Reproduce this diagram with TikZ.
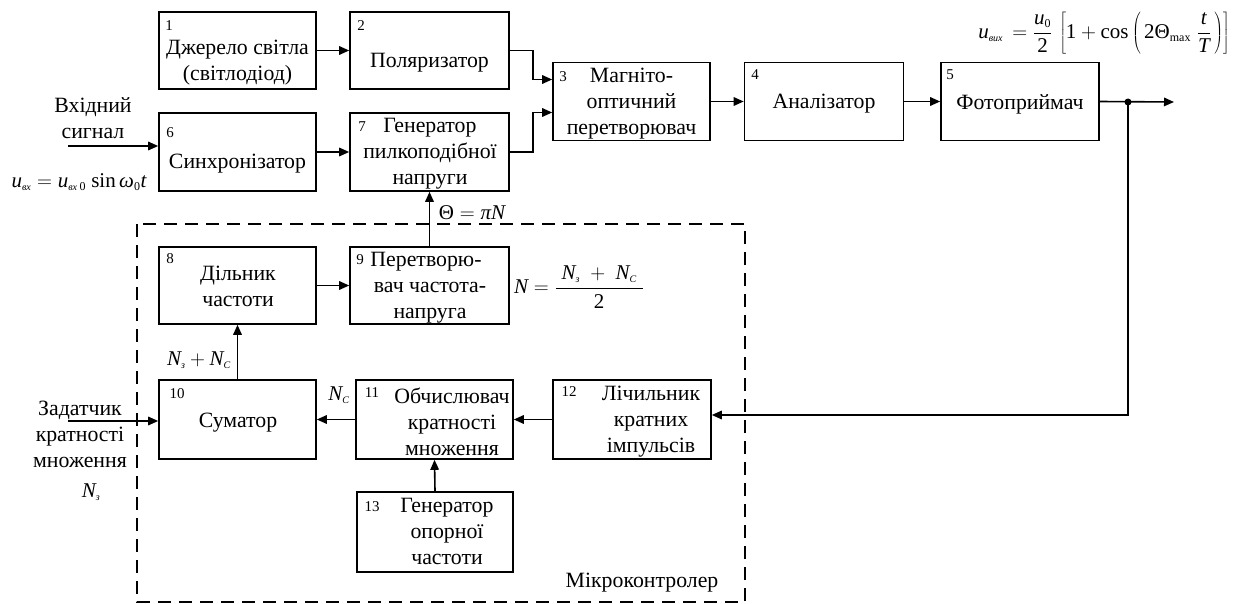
\documentclass[tikz,border=0pt]{standalone}
\usepackage{fontspec}
\setmainfont{Liberation Serif}
\usetikzlibrary{arrows.meta,calc}
\newcommand{\vi}[1]{\mbox{\itshape #1}}
\newcommand{\sbs}[1]{\mbox{\fontsize{10}{10}\selectfont\itshape #1}}
\newcommand{\sbu}[1]{\mbox{\fontsize{12}{12}\selectfont #1}}
\begin{document}
\begin{tikzpicture}[x=1pt,y=-1pt,
  box/.style={draw, line width=1.6pt, inner sep=0pt},
  txt/.style={font=\fontsize{21.8}{26}\selectfont, align=center, inner sep=0pt},
  num/.style={font=\fontsize{15}{15}\selectfont, inner sep=0pt},
  mth/.style={font=\fontsize{21}{26}\selectfont, inner sep=0pt},
  arr/.style={line width=1.6pt, -{Triangle[length=10pt,width=8.5pt]}},
  ln/.style={line width=1.6pt}]
\useasboundingbox (0,0) rectangle (1234,604);

% dashed microcontroller frame
\draw[line width=1.5pt, dash pattern=on 13pt off 8pt] (137,224) rectangle (745,602);
\node[txt] (mc) at (642,583) {Мікроконтролер};

% boxes
\node[box, minimum width=157pt, minimum height=77pt] (b1) at (237.5,50.5) {};
\node[box, minimum width=159pt, minimum height=77pt] (b2) at (429.5,50.5) {};
\node[box, minimum width=157pt, minimum height=78pt] (b3) at (631.5,101.5) {};
\node[box, minimum width=159pt, minimum height=78pt] (b4) at (824,101.5) {};
\node[box, minimum width=158pt, minimum height=78pt] (b5) at (1020,101.5) {};
\node[box, minimum width=157pt, minimum height=78pt] (b6) at (237.5,152) {};
\node[box, minimum width=159pt, minimum height=78pt] (b7) at (429.5,152) {};
\node[box, minimum width=157pt, minimum height=77pt] (b8) at (237.5,285.5) {};
\node[box, minimum width=159pt, minimum height=77pt] (b9) at (429.5,285.5) {};
\node[box, minimum width=157pt, minimum height=79pt] (b10) at (237.5,419.5) {};
\node[box, minimum width=157pt, minimum height=79pt] (b11) at (434.5,419.5) {};
\node[box, minimum width=158pt, minimum height=79pt] (b12) at (632,419.5) {};
\node[box, minimum width=156pt, minimum height=80pt] (b13) at (435,532) {};

% texts
\node[txt] (t1) at (237.5,63) {Джерело світла\\(світлодіод)};
\node[txt] (t2) at (429.5,63) {Поляризатор};
\node[txt] (t3) at (631.5,104) {Магніто-\\оптичний\\перетворювач};
\node[txt] (t4) at (824,104) {Аналізатор};
\node[txt] (t5) at (1020,104) {Фотоприймач};
\node[txt] (t6) at (237.5,164) {Синхронізатор};
\node[txt] (t7) at (430,154) {Генератор\\пилкоподібної\\напруги};
\node[txt] (t8) at (238,286) {Дільник\\частоти};
\node[txt] (t9) at (430,288) {\hspace*{-8pt}Перетворю-\\вач частота-\\напруга};
\node[txt] (t10) at (238,423) {Суматор};
\node[txt] (t11) at (452,422) {Обчислювач\\кратності\\множення};
\node[txt] (t12) at (651,422) {Лічильник\\кратних\\імпульсів};
\node[txt] (t13) at (447,531) {Генератор\\опорної\\частоти};

% numbers
\node[num] (n1) at (169,26) {1};
\node[num] (n2) at (361,26) {2};
\node[num] (n3) at (563,77) {3};
\node[num] (n4) at (755,75) {4};
\node[num] (n5) at (950,75) {5};
\node[num] (n6) at (170,133) {6};
\node[num] (n7) at (362,127) {7};
\node[num] (n8) at (170,259) {8};
\node[num] (n9) at (360,260) {9};
\node[num] (n10) at (177,394) {10};
\node[num] (n11) at (372,393) {11};
\node[num] (n12) at (569,392) {12};
\node[num] (n13) at (372,507) {13};

% outside labels
\node[txt] (inlbl) at (93,118) {Вхідний\\сигнал};
\node[mth] (uin) at (79,182) {$\vi{u}_{\sbs{вх}} = \vi{u}_{\sbs{вх}\,\sbu{0}}\ \mbox{sin}\,\vi{ω}_{\sbu{0}}\vi{t}$};
\node[txt] (zlbl) at (80,434) {Задатчик\\кратності\\множення};
\node[mth] (nz) at (91,492) {$\vi{N}_{\sbs{з}}$};
\node[mth] (nsum) at (199,360) {$\vi{N}_{\sbs{з}} + \vi{N}_{\sbs{C}}$};
\node[mth] (nc) at (339,395) {$\vi{N}_{\sbs{C}}$};
\node[mth] (theta) at (472,213) {$\mbox{Θ} = \vi{π}\vi{N}$};
\node[mth] (neq) at (579,287) {$\displaystyle \vi{N} = \frac{\;\vi{N}_{\sbs{з}}\; + \;\vi{N}_{\sbs{C}}\;}{\mbox{2}}$};
\node[mth] (uout) at (1104,33) {$\displaystyle \vi{u}_{\sbs{вих}}\, = \frac{\vi{u}_{\sbu{0}}}{\mbox{2}}\,\left[\mbox{1} + \mbox{cos}\left(\,\mbox{2Θ}_{\sbu{max}}\;\frac{\vi{t}}{\vi{T}}\,\right)\right]$};

% connectors
\coordinate (in6) at (68,146);
\coordinate (in10) at (68,421);
\coordinate (j) at (1128,102);
\coordinate (out) at (1174,102);
\draw[arr] (b1.east) -- (b2.west);
\draw[arr] (b2.east) -- ++(23,0) |- ($(b3.west)+(0,-22)$);
\draw[arr] (b7.east) -- ++(23,0) |- ($(b3.west)+(0,11)$);
\draw[arr] (b3.east) -- (b4.west);
\draw[arr] (b4.east) -- (b5.west);
\draw[arr] (b5.east) -- (out);
\fill (j) circle (3.5pt);
\draw[arr] (j) |- ($(b12.east)+(0,-4.5)$);
\draw[arr] (in6) -- (in6 -| b6.west);
\draw[arr] (b6.east) -- (b7.west);
\draw[arr] (b9.north) -- (b7.south);
\draw[arr] (b8.east) -- (b9.west);
\draw[arr] (b10.north) -- (b8.south);
\draw[arr] (in10) -- (in10 -| b10.west);
\draw[arr] (b11.west) -- (b10.east);
\draw[arr] (b12.west) -- (b11.east);
\draw[arr] (b13.north) -- (b11.south);
\end{tikzpicture}
\end{document}
